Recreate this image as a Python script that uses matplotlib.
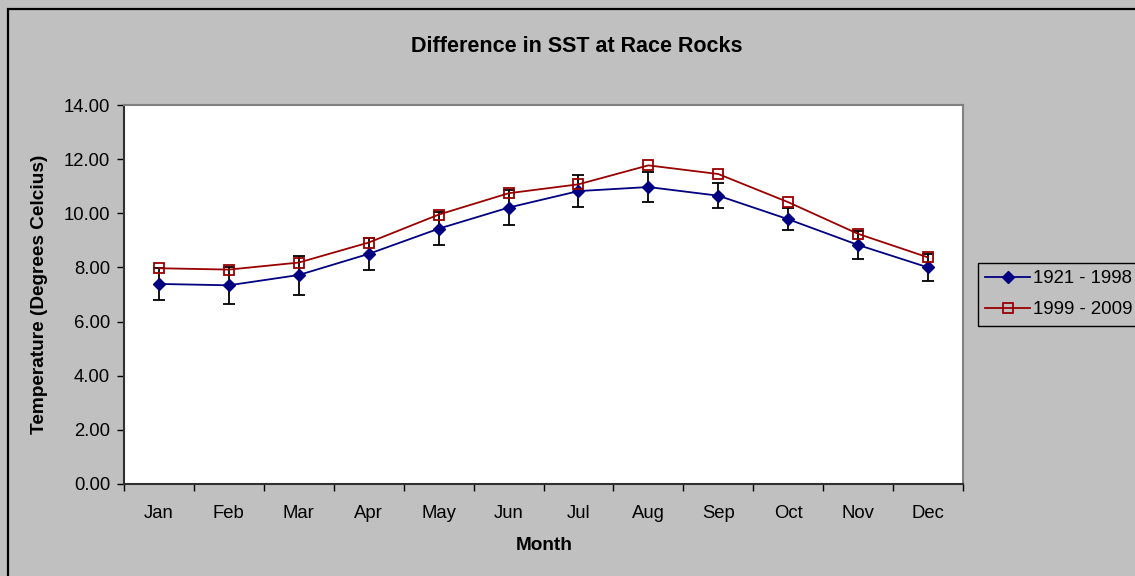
import numpy as np
import matplotlib
matplotlib.use("Agg")
import matplotlib.pyplot as plt
from matplotlib.patches import Rectangle

months = ["Jan", "Feb", "Mar", "Apr", "May", "Jun",
          "Jul", "Aug", "Sep", "Oct", "Nov", "Dec"]

# mean SST (deg C)
sst_1921_1998 = [7.39, 7.34, 7.72, 8.50, 9.43, 10.21,
                 10.82, 10.97, 10.65, 9.78, 8.83, 8.00]
sst_1999_2009 = [7.97, 7.92, 8.18, 8.92, 9.95, 10.74,
                 11.07, 11.77, 11.45, 10.41, 9.24, 8.37]
# error bars drawn on the long-term series
err_1921_1998 = [0.58, 0.69, 0.72, 0.60, 0.61, 0.65,
                 0.58, 0.55, 0.47, 0.41, 0.53, 0.51]

yticks = [0, 2, 4, 6, 8, 10, 12, 14]

plt.rcParams["font.family"] = ["Liberation Sans", "DejaVu Sans"]

W, H = 1135, 576
fig = plt.figure(figsize=(W / 100, H / 100), dpi=100)
fig.patch.set_facecolor("#C0C0C0")

# chart-area border (only top/left visible in the crop)
fig.patches.append(Rectangle((8 / W, -0.1), 1.2, 1 - 9 / H + 0.1,
                             transform=fig.transFigure, fill=False,
                             edgecolor="black", linewidth=1.6))
# legend box, runs off the right edge like the original
fig.patches.append(Rectangle((978 / W, 1 - 326 / H), 0.2, 63 / H,
                             transform=fig.transFigure, fill=False,
                             edgecolor="black", linewidth=1.0))

ax = fig.add_axes([124 / W, 1 - 484 / H, (963 - 124) / W, (484 - 105) / H])
ax.set_facecolor("white")

x = np.arange(len(months))
ax.errorbar(x, sst_1921_1998, yerr=err_1921_1998, fmt="none",
            ecolor="black", elinewidth=1.3, capsize=4.5, capthick=1.3, zorder=2)
ax.plot(x, sst_1921_1998, color="#000080", lw=1.3, marker="D",
        markersize=6.5, markerfacecolor="#000080", markeredgecolor="#000080",
        label="1921 - 1998", zorder=3)
ax.plot(x, sst_1999_2009, color="#990000", lw=1.3, marker="s",
        markersize=6.5, markerfacecolor="none", markeredgecolor="#990000",
        markeredgewidth=1.3, label="1999 - 2009", zorder=4)

ax.set_xlim(-0.5, len(months) - 0.5)
ax.set_ylim(0, 14)
ax.set_yticks(yticks)
ax.set_yticklabels([f"{v:.2f}" for v in yticks])
ax.set_xticks(x)
ax.set_xticklabels(months)
ax.set_xticks(np.arange(-0.5, len(months), 1.0), minor=True)
ax.tick_params(axis="x", which="major", length=0, pad=15, labelsize=13.3)
ax.tick_params(axis="x", which="minor", length=5, direction="out",
               color="black", width=1)
ax.tick_params(axis="y", length=5, direction="out", width=1, pad=5,
               labelsize=13.3)

for side in ["top", "right"]:
    ax.spines[side].set_color("#808080")
    ax.spines[side].set_linewidth(1.5)
for side in ["left", "bottom"]:
    ax.spines[side].set_color("#303030")
    ax.spines[side].set_linewidth(1.5)

fig.text(577 / W, 1 - 47 / H, "Difference in SST at Race Rocks",
         ha="center", va="center", fontsize=15.5, fontweight="bold")
fig.text(544 / W, 1 - 545 / H, "Month", ha="center", va="center",
         fontsize=13.7, fontweight="bold")
fig.text(40 / W, 1 - 294 / H, "Temperature (Degrees Celcius)", ha="center",
         va="center", rotation=90, fontsize=13.7, fontweight="bold")

leg = fig.legend(loc="upper left", bbox_to_anchor=(978 / W, 1 - 263 / H),
                 bbox_transform=fig.transFigure, frameon=False,
                 fontsize=13.4, handlelength=2.4, handletextpad=0.15,
                 borderpad=0.4, labelspacing=0.75, borderaxespad=0)

fig.savefig("out.png", dpi=100, facecolor=fig.get_facecolor())
